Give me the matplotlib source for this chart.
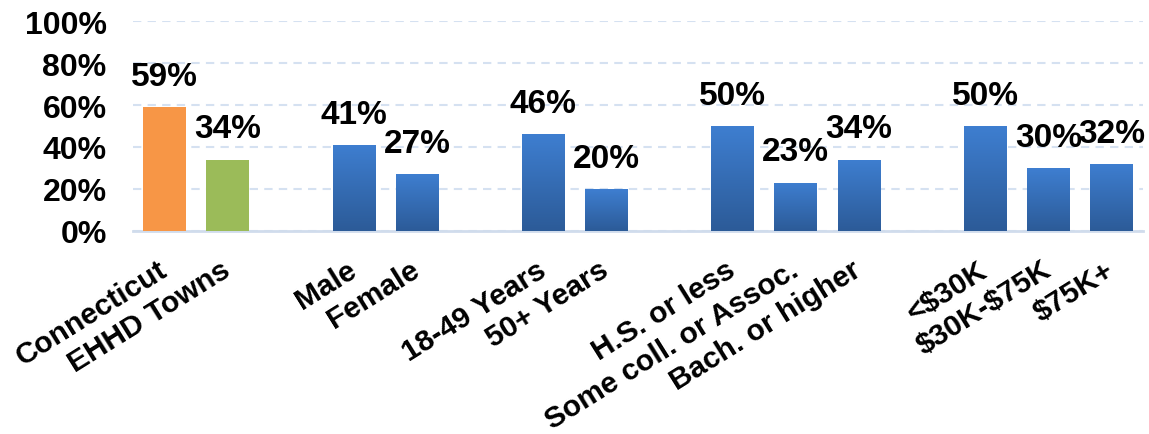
import numpy as np
import matplotlib.pyplot as plt
from matplotlib.colors import LinearSegmentedColormap
from matplotlib.ticker import PercentFormatter

plt.rcParams['font.family'] = ['Liberation Sans', 'DejaVu Sans']
plt.rcParams['font.weight'] = 'bold'
plt.rcParams['text.parse_math'] = False

# Share of respondents, by subgroup
labels = ['Connecticut', 'EHHD Towns',
          'Male', 'Female',
          '18-49 Years', '50+ Years',
          'H.S. or less', 'Some coll. or Assoc.', 'Bach. or higher',
          '<$30K', '$30K-$75K', '$75K+']
values = [59, 34, 41, 27, 46, 20, 50, 23, 34, 50, 30, 32]
# slot of each bar along the axis (empty slots separate the groups)
slots = [0, 1, 3, 4, 6, 7, 9, 10, 11, 13, 14, 15]
solid = {0: '#F79646', 1: '#9BBB59'}

blue = LinearSegmentedColormap.from_list('blue', ['#2C5B98', '#3E7ED0'])

fig = plt.figure(figsize=(11.49, 4.35), dpi=100)
ax = fig.add_axes([0.1158, 0.4667, 0.8790, 0.4827])

bars = ax.bar(slots, values, width=0.68, color='none', zorder=3)
for i, (b, v) in enumerate(zip(bars, values)):
    if i in solid:
        b.set_facecolor(solid[i])
    else:
        x0 = b.get_x()
        grad = np.linspace(1, 0, 100).reshape(-1, 1)
        im = ax.imshow(grad, extent=[x0, x0 + b.get_width(), 0, v],
                       aspect='auto', cmap=blue, zorder=3)
        im.set_clip_path(b)
    ax.annotate(f'{v}%', (b.get_x() + b.get_width() / 2, v),
                xytext=(0, 11), textcoords='offset points',
                ha='center', va='bottom', fontsize=24, fontweight='bold',
                zorder=4)

ax.set_xlim(-0.5, 15.5)
ax.set_ylim(0, 100)
ax.set_yticks(range(0, 101, 20))
ax.yaxis.set_major_formatter(PercentFormatter(decimals=0))
ax.grid(axis='y', linestyle=(0, (4, 3)), color='#D5E1F1', linewidth=1.5, zorder=0)
ax.set_axisbelow(True)

for s in ['top', 'right', 'left']:
    ax.spines[s].set_visible(False)
ax.spines['bottom'].set_color('#D0DCEC')
ax.spines['bottom'].set_linewidth(2)

ax.tick_params(axis='y', length=0, pad=19, labelsize=23)
ax.tick_params(axis='x', length=0, pad=26, labelsize=21.5)
ax.set_xticks(slots)
ax.set_xticklabels(labels, rotation=32, ha='right', va='center',
                   rotation_mode='anchor')
for t in ax.get_yticklabels() + ax.get_xticklabels():
    t.set_fontweight('bold')

fig.savefig('out.png', dpi=100)
